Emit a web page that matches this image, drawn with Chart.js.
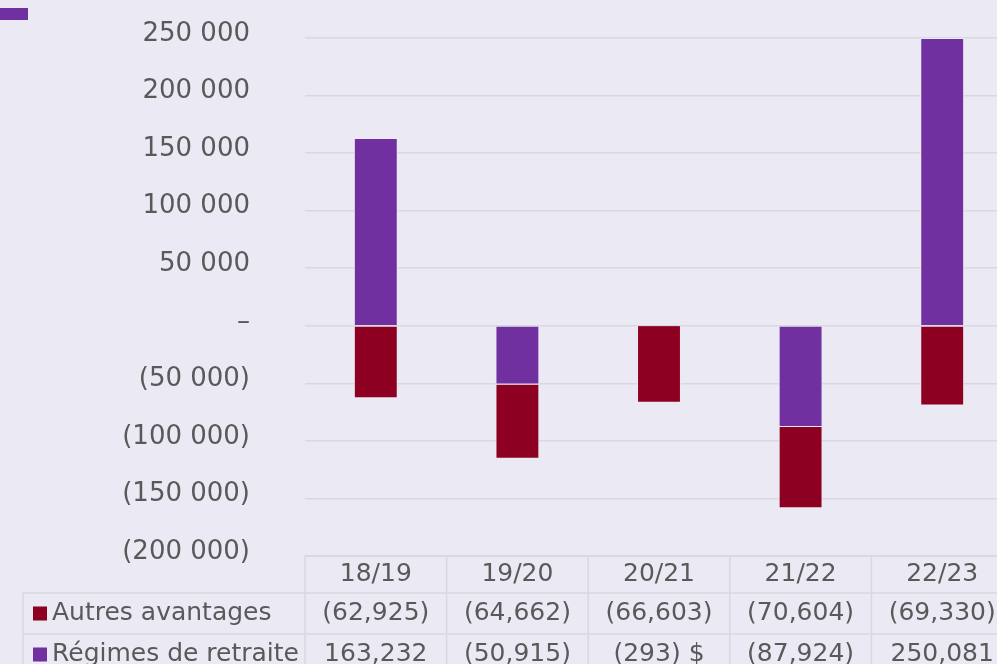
<!DOCTYPE html>
<html>
<head>
<meta charset="utf-8">
<script src="https://cdn.jsdelivr.net/npm/chart.js@4.4.1/dist/chart.umd.min.js"></script>
<style>
  html, body { margin: 0; padding: 0; background: #EBE9F4; overflow: hidden; }
  #wrap { position: relative; width: 1013px; height: 664px; }
</style>
</head>
<body>
<div id="wrap"><canvas id="c"></canvas></div>
<script>
// ---- Data ----
const categories = ['18/19', '19/20', '20/21', '21/22', '22/23'];
const autresAvantages = [-62925, -64662, -66603, -70604, -69330];
const regimesRetraite = [163232, -50915, -293, -87924, 250081];
const seriesNames = ['Autres avantages', 'Régimes de retraite'];
const tableSuffixRegimes = ['', '', ' $', '', ''];
const yMin = -200000, yMax = 250000, yStep = 50000;

const COLOR_RED = '#8E0021';
const COLOR_PURPLE = '#7030A0';
const TEXT = '#595959';
const GRID = '#D9D8E0';
const BG = '#EBE9F4';

function fmtTick(v) {
  if (v === 0) return '–';
  const s = Math.abs(v).toString().replace(/\B(?=(\d{3})+(?!\d))/g, ' ');
  return v < 0 ? '(' + s + ')' : s;
}
function fmtTable(v) {
  const s = Math.abs(v).toString().replace(/\B(?=(\d{3})+(?!\d))/g, ',');
  return v < 0 ? '(' + s + ')' : s;
}

const tablePlugin = {
  id: 'dataTable',
  afterDraw(chart) {
    const ctx = chart.ctx;
    const xs = chart.scales.x;
    const ca = chart.chartArea;
    const colW = (ca.right - ca.left) / categories.length;
    const top = ca.bottom;
    const hHead = 37, hRow = 41;
    const r1 = top + hHead, r2 = r1 + hRow, r3 = r2 + hRow;
    const leftX = 23;
    ctx.save();
    // legend remnant at top-left
    ctx.fillStyle = COLOR_PURPLE;
    ctx.fillRect(0, 8, 28, 12);
    // grid lines
    ctx.strokeStyle = GRID;
    ctx.lineWidth = 1.5;
    ctx.beginPath();
    ctx.moveTo(ca.left, top); ctx.lineTo(ca.right, top);
    ctx.moveTo(leftX, r1); ctx.lineTo(ca.right, r1);
    ctx.moveTo(leftX, r2); ctx.lineTo(ca.right, r2);
    ctx.moveTo(leftX, r3); ctx.lineTo(ca.right, r3);
    ctx.moveTo(leftX, r1); ctx.lineTo(leftX, r3);
    for (let i = 0; i <= categories.length; i++) {
      const x = ca.left + i * colW;
      ctx.moveTo(x, top); ctx.lineTo(x, r3);
    }
    ctx.stroke();
    // text
    ctx.fillStyle = TEXT;
    ctx.font = '25px "DejaVu Sans"';
    ctx.textAlign = 'center';
    ctx.textBaseline = 'middle';
    categories.forEach((c, i) => {
      const x = xs.getPixelForValue(i);
      ctx.fillText(c, x, top + hHead / 2);
      ctx.fillText(fmtTable(autresAvantages[i]), x, r1 + hRow / 2);
      ctx.fillText(fmtTable(regimesRetraite[i]) + tableSuffixRegimes[i], x, r2 + hRow / 2);
    });
    // row labels
    ctx.textAlign = 'left';
    ctx.fillStyle = COLOR_RED;
    ctx.fillRect(33, r1 + hRow / 2 - 7, 14, 14);
    ctx.fillStyle = COLOR_PURPLE;
    ctx.fillRect(33, r2 + hRow / 2 - 7, 14, 14);
    ctx.fillStyle = TEXT;
    ctx.fillText(seriesNames[0], 52, r1 + hRow / 2);
    ctx.fillText(seriesNames[1], 52, r2 + hRow / 2);
    ctx.restore();
  }
};

new Chart(document.getElementById('c'), {
  type: 'bar',
  data: {
    labels: categories,
    datasets: [
      { label: seriesNames[1], data: regimesRetraite, backgroundColor: COLOR_PURPLE,
        borderColor: BG, borderWidth: 1, stack: 's' },
      { label: seriesNames[0], data: autresAvantages, backgroundColor: COLOR_RED,
        borderColor: BG, borderWidth: 1, stack: 's' }
    ]
  },
  options: {
    responsive: true,
    maintainAspectRatio: false,
    animation: false,
    layout: { padding: { top: 38, bottom: 108, left: 0, right: 0 } },
    plugins: { legend: { display: false }, tooltip: { enabled: false } },
    datasets: { bar: { barPercentage: 0.31, categoryPercentage: 1 } },
    scales: {
      x: { display: false, stacked: true },
      y: {
        stacked: true,
        min: yMin, max: yMax,
        afterFit(axis) { axis.width = 305; axis.paddingTop = 16; axis.paddingBottom = 16; },
        border: { display: false },
        grid: { color: GRID, lineWidth: 1.5, drawTicks: false },
        ticks: {
          stepSize: yStep,
          padding: 55,
          labelOffset: -4,
          color: TEXT,
          font: { family: 'DejaVu Sans', size: 26 },
          callback: (v) => fmtTick(v)
        }
      }
    }
  },
  plugins: [tablePlugin]
});
</script>
</body>
</html>
